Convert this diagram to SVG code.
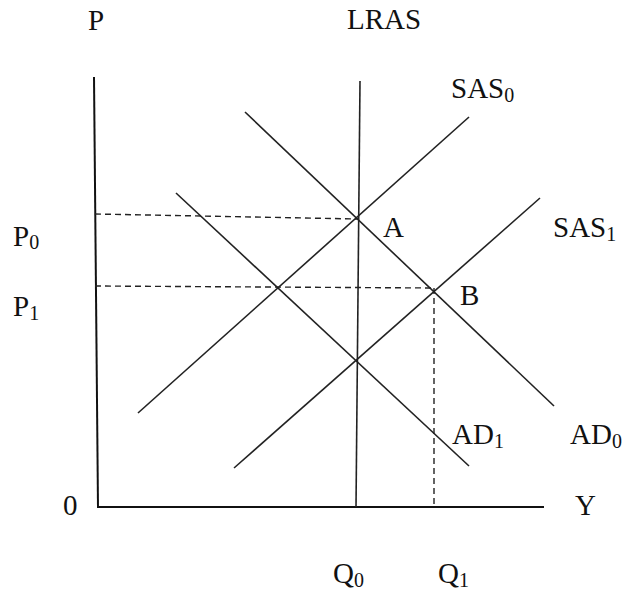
<svg xmlns="http://www.w3.org/2000/svg" width="624" height="597" viewBox="0 0 624 597">
<style>
.ln{stroke:#222;stroke-width:1.6;fill:none}
.ax{stroke:#111;stroke-width:2;fill:none}
.ds{stroke:#222;stroke-width:1.4;fill:none;stroke-dasharray:6 4}
text{font-family:"Liberation Serif","Times New Roman",serif;font-size:29px;fill:#111}
.sb{font-size:20px}
</style>
<rect width="624" height="597" fill="#fff"/>
<g id="axes">
<line class="ax" x1="94" y1="77" x2="98" y2="508"/>
<line class="ax" x1="97" y1="507" x2="544" y2="507"/>
</g>
<g id="connectors">
<line class="ds" x1="95" y1="214" x2="358" y2="219"/>
<line class="ds" x1="95" y1="286" x2="434" y2="288"/>
<line class="ds" x1="434" y1="288" x2="434" y2="507"/>
</g>
<g id="LRAS"><line class="ln" x1="360" y1="81" x2="356" y2="507"/></g>
<g id="AD0"><line class="ln" x1="245" y1="112" x2="554" y2="406"/></g>
<g id="AD1"><line class="ln" x1="176" y1="193" x2="469" y2="466"/></g>
<g id="SAS0"><line class="ln" x1="469" y1="117" x2="138" y2="413"/></g>
<g id="SAS1"><line class="ln" x1="540" y1="198" x2="234" y2="468"/></g>
<g id="labels">
<text x="88" y="30">P</text>
<text x="347" y="29">LRAS</text>
<text x="451" y="98">SAS<tspan class="sb" dy="4">0</tspan></text>
<text x="383" y="237">A</text>
<text x="553" y="237">SAS<tspan class="sb" dy="4">1</tspan></text>
<text x="13" y="246">P<tspan class="sb" dy="3">0</tspan></text>
<text x="13" y="316">P<tspan class="sb" dy="4">1</tspan></text>
<text x="460" y="305">B</text>
<text x="452" y="444">AD<tspan class="sb" dy="4">1</tspan></text>
<text x="570" y="444">AD<tspan class="sb" dy="4">0</tspan></text>
<text x="63" y="515">0</text>
<text x="575" y="515">Y</text>
<text x="333" y="583">Q<tspan class="sb" dy="4">0</tspan></text>
<text x="438" y="583">Q<tspan class="sb" dy="4">1</tspan></text>
</g>
</svg>
